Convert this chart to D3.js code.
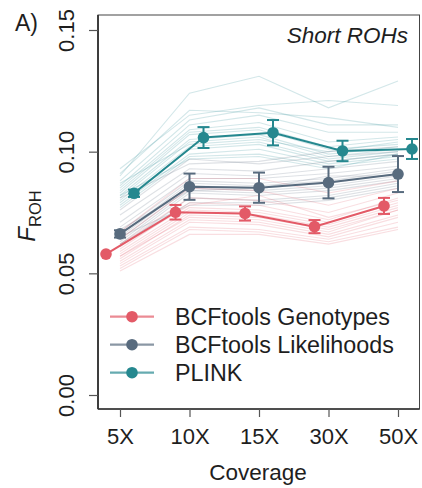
<!DOCTYPE html>
<html>
<head>
<meta charset="utf-8">
<script src="https://cdn.jsdelivr.net/npm/d3@7"></script>
<style>
  html, body { margin: 0; padding: 0; background: #fff; }
  svg { display: block; font-family: "Liberation Sans", Arial, Helvetica, sans-serif; }
</style>
</head>
<body>
<svg id="chart" width="422" height="488"></svg>
<script>
// ---------------- data ----------------
const coverages = ["5X", "10X", "15X", "30X", "50X"];
const yTicks = [0.00, 0.05, 0.10, 0.15];
const methods = ["BCFtools Genotypes", "BCFtools Likelihoods", "PLINK"];

// mean F_ROH per coverage
const meanGenotypes   = [0.0579, 0.0751, 0.0746, 0.0692, 0.0777];
const meanLikelihoods = [0.0662, 0.0856, 0.0852, 0.0873, 0.0908];
const meanPlink       = [0.0829, 0.1058, 0.1078, 0.1003, 0.1011];

// error bar half-widths
const errGenotypes   = [0.0000, 0.0030, 0.0029, 0.0027, 0.0033];
const errLikelihoods = [0.0015, 0.0054, 0.0062, 0.0065, 0.0074];
const errPlink       = [0.0015, 0.0043, 0.0052, 0.0042, 0.0041];

// individual sample lines
const samplesPlink = [
  [0.090, 0.124, 0.131, 0.118, 0.129],
  [0.093, 0.115, 0.119, 0.121, 0.119],
  [0.088, 0.113, 0.118, 0.111, 0.111],
  [0.086, 0.111, 0.115, 0.108, 0.108],
  [0.085, 0.109, 0.112, 0.104, 0.106],
  [0.084, 0.108, 0.110, 0.102, 0.105],
  [0.083, 0.107, 0.109, 0.101, 0.103],
  [0.082, 0.105, 0.107, 0.099, 0.102],
  [0.081, 0.104, 0.106, 0.098, 0.101],
  [0.080, 0.102, 0.104, 0.097, 0.100],
  [0.079, 0.101, 0.103, 0.096, 0.099],
  [0.078, 0.099, 0.101, 0.095, 0.098],
  [0.077, 0.098, 0.099, 0.094, 0.097],
  [0.082, 0.097, 0.098, 0.093, 0.099],
  [0.087, 0.103, 0.105, 0.100, 0.104],
  [0.091, 0.117, 0.116, 0.114, 0.110]
];
const samplesLikelihoods = [
  [0.081, 0.095, 0.096, 0.100, 0.102],
  [0.074, 0.093, 0.092, 0.096, 0.099],
  [0.071, 0.091, 0.090, 0.093, 0.096],
  [0.069, 0.089, 0.089, 0.091, 0.094],
  [0.067, 0.088, 0.087, 0.089, 0.093],
  [0.066, 0.087, 0.086, 0.088, 0.092],
  [0.065, 0.086, 0.085, 0.087, 0.091],
  [0.064, 0.085, 0.084, 0.086, 0.090],
  [0.063, 0.084, 0.083, 0.085, 0.089],
  [0.062, 0.083, 0.082, 0.084, 0.088],
  [0.061, 0.081, 0.080, 0.082, 0.087],
  [0.062, 0.079, 0.079, 0.081, 0.086],
  [0.065, 0.078, 0.078, 0.080, 0.085],
  [0.068, 0.084, 0.085, 0.090, 0.090],
  [0.076, 0.097, 0.095, 0.098, 0.100]
];
const samplesGenotypes = [
  [0.067, 0.089, 0.089, 0.083, 0.088],
  [0.064, 0.085, 0.084, 0.078, 0.085],
  [0.062, 0.081, 0.080, 0.075, 0.083],
  [0.060, 0.079, 0.078, 0.072, 0.081],
  [0.059, 0.077, 0.076, 0.071, 0.079],
  [0.058, 0.076, 0.075, 0.070, 0.078],
  [0.057, 0.075, 0.074, 0.069, 0.077],
  [0.056, 0.074, 0.073, 0.068, 0.076],
  [0.055, 0.072, 0.071, 0.066, 0.074],
  [0.054, 0.071, 0.070, 0.065, 0.073],
  [0.053, 0.069, 0.068, 0.064, 0.071],
  [0.052, 0.068, 0.067, 0.063, 0.069],
  [0.057, 0.073, 0.072, 0.067, 0.076],
  [0.061, 0.078, 0.082, 0.073, 0.080],
  [0.051, 0.066, 0.066, 0.062, 0.068]
];

// ---------------- drawing ----------------
const colors = { "BCFtools Genotypes": "#e35a67", "BCFtools Likelihoods": "#586b7e", "PLINK": "#25888f" };
const series = [
  { name: "BCFtools Genotypes",   mean: meanGenotypes,   err: errGenotypes,   samples: samplesGenotypes,   dodge: -14 },
  { name: "BCFtools Likelihoods", mean: meanLikelihoods, err: errLikelihoods, samples: samplesLikelihoods, dodge: 0 },
  { name: "PLINK",                mean: meanPlink,       err: errPlink,       samples: samplesPlink,       dodge: 14 }
];

const svg = d3.select("#chart");
const pLeft = 98, pRight = 419.5, pTop = 15, pBottom = 409;

const x = d3.scalePoint().domain(coverages).range([120, 398]);
const y = d3.scaleLinear().domain([0, 0.15]).range([395, 30]);

// background sample lines
const sampleLine = d3.line().x((d, i) => x(coverages[i])).y(d => y(d));
const bgOrder = [series[2], series[1], series[0]];
bgOrder.forEach(s => {
  svg.append("g").selectAll("path").data(s.samples).join("path")
    .attr("d", sampleLine)
    .attr("fill", "none")
    .attr("stroke", colors[s.name])
    .attr("stroke-opacity", 0.2)
    .attr("stroke-width", 1.1);
});

// mean lines, error bars and points
series.forEach(s => {
  const g = svg.append("g");
  const c = colors[s.name];
  const line = d3.line().x((d, i) => x(coverages[i]) + s.dodge).y(d => y(d));
  g.append("path").datum(s.mean).attr("d", line)
    .attr("fill", "none").attr("stroke", c).attr("stroke-width", 2);
  s.mean.forEach((m, i) => {
    const cx = x(coverages[i]) + s.dodge;
    const e = s.err[i];
    if (e > 0) {
      g.append("line").attr("x1", cx).attr("x2", cx).attr("y1", y(m - e)).attr("y2", y(m + e))
        .attr("stroke", c).attr("stroke-width", 2);
      [m - e, m + e].forEach(v => {
        g.append("line").attr("x1", cx - 6).attr("x2", cx + 6).attr("y1", y(v)).attr("y2", y(v))
          .attr("stroke", c).attr("stroke-width", 2);
      });
    }
    g.append("circle").attr("cx", cx).attr("cy", y(m)).attr("r", 5.8).attr("fill", c);
  });
});

// panel border
svg.append("rect").attr("x", pLeft).attr("y", pTop).attr("width", pRight - pLeft).attr("height", pBottom - pTop)
  .attr("fill", "none").attr("stroke", "#444").attr("stroke-width", 1);
svg.append("line").attr("x1", pLeft).attr("x2", pLeft).attr("y1", pTop).attr("y2", pBottom)
  .attr("stroke", "#333").attr("stroke-width", 1.8);
svg.append("line").attr("x1", pLeft).attr("x2", pRight).attr("y1", pBottom).attr("y2", pBottom)
  .attr("stroke", "#333").attr("stroke-width", 1.5);

// y axis
const yAxis = svg.append("g").attr("transform", `translate(${pLeft},0)`)
  .call(d3.axisLeft(y).tickValues(yTicks).tickFormat(d3.format(".2f")).tickSize(9).tickSizeOuter(0));
yAxis.select(".domain").remove();
yAxis.selectAll(".tick line").attr("stroke", "#555").attr("stroke-width", 1.2);
yAxis.selectAll(".tick text")
  .attr("x", null).attr("dy", null)
  .attr("transform", "translate(-24,0) rotate(-90)")
  .attr("text-anchor", "middle")
  .attr("font-size", 22).attr("fill", "#1e1e1e")
  .style("font-family", "Liberation Sans, Arial, sans-serif");

// x axis
const xAxis = svg.append("g").attr("transform", `translate(0,${pBottom})`)
  .call(d3.axisBottom(x).tickSize(8).tickSizeOuter(0));
xAxis.select(".domain").remove();
xAxis.selectAll(".tick line").attr("stroke", "#555").attr("stroke-width", 1.2);
xAxis.selectAll(".tick text")
  .attr("y", 35).attr("dy", null)
  .attr("font-size", 22).attr("fill", "#1e1e1e")
  .style("font-family", "Liberation Sans, Arial, sans-serif");

// axis titles
svg.append("text").attr("x", 258).attr("y", 480).attr("text-anchor", "middle")
  .attr("font-size", 22.5).attr("fill", "#1e1e1e").text("Coverage");

const yl = svg.append("text").attr("transform", "translate(35,216) rotate(-90)")
  .attr("text-anchor", "middle").attr("font-size", 24).attr("fill", "#1e1e1e");
yl.append("tspan").attr("font-style", "italic").text("F");
yl.append("tspan").attr("font-size", 16.5).attr("dy", 6).text("ROH");

// panel tag and annotation
svg.append("text").attr("x", 15).attr("y", 31).attr("font-size", 23).attr("fill", "#1e1e1e").text("A)");
svg.append("text").attr("x", 408).attr("y", 43).attr("text-anchor", "end")
  .attr("font-size", 22.5).attr("font-style", "italic").attr("fill", "#1e1e1e").text("Short ROHs");

// legend
const legendY = [316.7, 344.7, 372.7];
methods.forEach((m, i) => {
  const g = svg.append("g").attr("transform", `translate(0,${legendY[i]})`);
  g.append("line").attr("x1", 110).attr("x2", 154).attr("y1", 0).attr("y2", 0)
    .attr("stroke", colors[m]).attr("stroke-width", 2.2).attr("stroke-opacity", 0.7);
  g.append("circle").attr("cx", 132).attr("cy", 0).attr("r", 5.8).attr("fill", colors[m]);
  g.append("text").attr("x", 175).attr("y", 8).attr("font-size", 23.3).attr("fill", "#1e1e1e").text(m);
});
</script>
</body>
</html>
